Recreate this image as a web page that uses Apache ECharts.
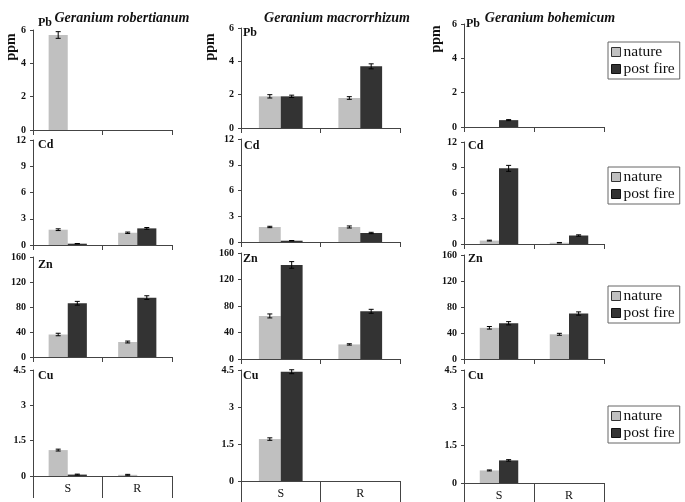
<!DOCTYPE html>
<html><head><meta charset="utf-8">
<script src="https://cdn.jsdelivr.net/npm/echarts@6/dist/echarts.min.js"></script>
<style>html,body{margin:0;padding:0;background:#fff}#c{width:685px;height:502px}</style>
</head><body><div id="c"></div>
<script>
const categories = ['S', 'R'];
const species = ['Geranium robertianum', 'Geranium macrorrhizum', 'Geranium bohemicum'];
const elements = ['Pb', 'Cd', 'Zn', 'Cu'];
const yMax = [6, 12, 160, 4.5];
const yInterval = [2, 3, 40, 1.5];

// values per species: [S, R]
const pbNature = [[5.7, 0], [1.9, 1.8], [0, 0]];
const pbPost   = [[0, 0], [1.9, 3.7], [0.4, 0]];
const cdNature = [[1.75, 1.4], [1.75, 1.75], [0.4, 0.15]];
const cdPost   = [[0.15, 1.9], [0.15, 1.05], [8.9, 1.0]];
const znNature = [[36, 24], [65, 22], [48, 38]];
const znPost   = [[86, 95], [142, 72], [55, 70]];
const cuNature = [[1.1, 0.05], [1.7, 0], [0.5, 0]];
const cuPost   = [[0.06, 0], [4.43, 0], [0.9, 0]];

const pbNatureErr = [[0.2, 0], [0.1, 0.08], [0, 0]];
const pbPostErr   = [[0, 0], [0.07, 0.15], [0.03, 0]];
const cdNatureErr = [[0.1, 0.08], [0.08, 0.12], [0.05, 0.03]];
const cdPostErr   = [[0.02, 0.1], [0.02, 0.08], [0.35, 0.08]];
const znNatureErr = [[2, 1.5], [3, 1], [2, 1.5]];
const znPostErr   = [[3, 3], [5, 3], [2.5, 2.5]];
const cuNatureErr = [[0.04, 0.02], [0.05, 0], [0.02, 0]];
const cuPostErr   = [[0.02, 0], [0.08, 0], [0.03, 0]];

const natureVals = [pbNature, cdNature, znNature, cuNature];
const postVals = [pbPost, cdPost, znPost, cuPost];
const natureErrs = [pbNatureErr, cdNatureErr, znNatureErr, cuNatureErr];
const postErrs = [pbPostErr, cdPostErr, znPostErr, cuPostErr];

// layout
const colLeft = [33, 241, 464];
const colWidth = [139, 159, 140];
const gridTop = [[30, 28, 24], [140, 139, 142], [257, 253, 255], [370, 370, 370]];
const gridBottom = [[130, 128, 127], [245, 242, 244], [357, 359, 359], [476, 481, 483]];
const labelPos = [[[38, 24], [243, 34], [466, 25]], [[38, 146], [244, 147], [468, 147]],
                  [[38, 266], [243, 260], [468, 260]], [[38, 377], [243, 377], [468, 377]]];
const titleX = [117, 332, 545];
const ppmPos = [[11, 47], [210, 47], [436, 39]];
const legendTop = [42, 167, 286, 406];

const SERIF = 'Liberation Serif';
const LIGHT = '#c0c0c0', DARK = '#333333', AXIS = '#444';
const BARFRAC = 0.1375;

const grid = [], xAxis = [], yAxis = [], series = [], graphic = [], title = [], legend = [];
let gi = 0;
for (let r = 0; r < 4; r++) {
  for (let c = 0; c < 3; c++) {
    grid.push({left: colLeft[c], width: colWidth[c], top: gridTop[r][c],
               height: gridBottom[r][c] - gridTop[r][c]});
    const last = r === 3;
    xAxis.push({type: 'category', gridIndex: gi, data: categories, boundaryGap: true,
      axisLine: {lineStyle: {color: AXIS, width: 1}},
      axisTick: {show: true, alignWithLabel: false, length: last ? 22 : 5, lineStyle: {color: AXIS}},
      axisLabel: {show: last, margin: 7, fontFamily: SERIF, fontSize: 12, color: '#111'}});
    yAxis.push({type: 'value', gridIndex: gi, min: 0, max: yMax[r], interval: yInterval[r],
      splitLine: {show: false},
      axisLine: {show: true, lineStyle: {color: AXIS, width: 1}},
      axisTick: {show: true, length: 3, lineStyle: {color: AXIS}},
      axisLabel: {margin: 7, fontFamily: SERIF, fontWeight: 'bold', fontSize: 10, color: '#111'}});
    series.push({type: 'bar', name: 'nature', xAxisIndex: gi, yAxisIndex: gi,
      data: natureVals[r][c], barGap: '0%', barCategoryGap: '45%',
      itemStyle: {color: LIGHT}, silent: true});
    series.push({type: 'bar', name: 'post fire', xAxisIndex: gi, yAxisIndex: gi,
      data: postVals[r][c], barGap: '0%', barCategoryGap: '45%',
      itemStyle: {color: DARK}, silent: true});
    const errData = [];
    for (let k = 0; k < 2; k++) {
      errData.push([k, natureVals[r][c][k], natureErrs[r][c][k], -1]);
      errData.push([k, postVals[r][c][k], postErrs[r][c][k], 1]);
    }
    series.push({type: 'custom', name: 'err', xAxisIndex: gi, yAxisIndex: gi, silent: true, z: 5,
      data: errData,
      renderItem: function (params, api) {
        const ci = api.value(0), v = api.value(1), e = api.value(2), side = api.value(3);
        if (!v || !e) return null;
        const band = api.size([1, 0])[0];
        const x = api.coord([ci, 0])[0] + side * band * BARFRAC;
        const yT = api.coord([ci, v + e])[1], yB = api.coord([ci, Math.max(0, v - e)])[1];
        const cw = 2.5;
        const st = {stroke: '#000', lineWidth: 1};
        return {type: 'group', children: [
          {type: 'line', shape: {x1: x, y1: yT, x2: x, y2: yB}, style: st},
          {type: 'line', shape: {x1: x - cw, y1: yT, x2: x + cw, y2: yT}, style: st},
          {type: 'line', shape: {x1: x - cw, y1: yB, x2: x + cw, y2: yB}, style: st}
        ]};
      }});
    graphic.push({type: 'text', left: labelPos[r][c][0], top: labelPos[r][c][1] - 7,
      style: {text: elements[r], font: 'bold 12px "Liberation Serif"', fill: '#111'}});
    gi++;
  }
  legend.push({orient: 'vertical', left: 608, top: legendTop[r],
    icon: 'rect', itemWidth: 9, itemHeight: 9, itemGap: 1,
    padding: [2, 5, 2, 3], borderColor: '#666', borderWidth: 1,
    selectedMode: false,
    textStyle: {fontFamily: SERIF, fontSize: 15.5, color: '#111', padding: [0, 0, 0, -2]},
    data: [{name: 'nature', itemStyle: {color: LIGHT, borderColor: '#333', borderWidth: 1}},
           {name: 'post fire', itemStyle: {color: DARK, borderColor: '#111', borderWidth: 1}}]});
}
for (let c = 0; c < 3; c++) {
  title.push({text: species[c], left: titleX[c], top: 6, textAlign: 'center',
    textStyle: {fontFamily: SERIF, fontStyle: 'italic', fontWeight: 'bold', fontSize: 14, color: '#111'}});
  graphic.push({type: 'text', x: ppmPos[c][0], y: ppmPos[c][1], rotation: Math.PI / 2,
    style: {text: 'ppm', font: 'bold 14px "Liberation Serif"', fill: '#111',
            textAlign: 'center', textVerticalAlign: 'middle'}});
}

const chart = echarts.init(document.getElementById('c'), null, {renderer: 'canvas'});
chart.setOption({animation: false, color: [LIGHT, DARK], title, grid, xAxis, yAxis, series, graphic, legend});
</script></body></html>
